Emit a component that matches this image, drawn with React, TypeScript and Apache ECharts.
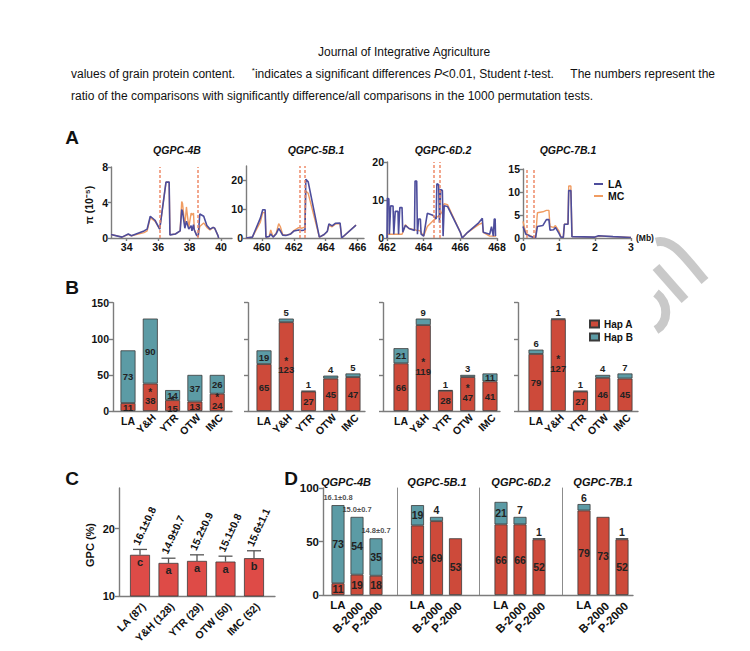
import React, { useEffect, useRef } from 'react';
import * as echarts from 'echarts';

const FONT = '"Liberation Sans", Arial, Helvetica, sans-serif';
const AXIS_C = '#7c7c7c';
const RED = '#cd4a3a';
const TEAL = '#5c9ba5';
const C_RED = '#de4b47';
const LA_C = '#4d4d9c';
const MC_C = '#f09c62';
const DASH_C = '#ee8a68';
const EDGE = '#3a3a3a';

// ---------------- Panel A : nucleotide diversity ----------------
const a4bX = [33.0, 33.7, 34.1, 34.3, 35.1, 35.3, 35.5, 35.8, 36.1, 36.5, 36.7, 36.75, 37.1, 37.4, 37.5, 37.55, 37.7, 37.8, 37.95, 38.1, 38.15, 38.25, 38.3, 38.45, 38.55, 38.65, 38.9, 39.1, 39.3, 39.5, 39.6, 39.8, 39.85];
const a4bLA = [0.4, 0.1, 0.45, 0.25, 0.8, 1.0, 2.45, 2.0, 1.0, 6.3, 6.3, 0.35, 0.45, 0.8, 3.2, 3.0, 1.1, 1.9, 1.0, 1.4, 0.8, 1.5, 0.9, 0.3, 0.2, 2.7, 2.45, 1.4, 1.0, 1.2, 1.1, 0.3, 0.0];
const a4bMC = [0.4, 0.1, 0.4, 0.25, 0.6, 0.8, 2.3, 1.9, 1.0, 6.3, 6.3, 0.35, 0.45, 0.8, 4.1, 3.9, 1.4, 3.5, 1.2, 2.8, 2.6, 2.8, 1.0, 0.3, 0.2, 1.3, 1.7, 1.2, 0.9, 1.2, 1.1, 0.3, 0.0];
const a4bDash = [36.1, 38.55];

const a5bX = [459.0, 459.4, 459.9, 460.05, 460.2, 460.25, 460.45, 460.55, 460.7, 460.9, 461.05, 461.15, 461.3, 461.5, 461.8, 462.0, 462.3, 462.5, 462.7, 462.75, 462.9, 463.6, 463.9, 464.1, 464.2, 464.4, 464.6, 464.9, 465.0, 465.9];
const a5bLA = [0, 0.3, 6.9, 9.8, 9.8, 0.3, 0.5, 1.4, 0.3, 1.5, 3.3, 2.5, 1.0, 0.9, 1.4, 2.4, 2.8, 2.6, 2.8, 20.4, 19.5, 0.3, 1.2, 2.3, 4.9, 4.2, 5.1, 5.2, 0, 4.5];
const a5bMC = [0, 0.3, 5.5, 8.8, 8.8, 0.3, 0.5, 2.8, 0.3, 1.8, 5.0, 4.0, 1.2, 0.9, 1.4, 2.6, 3.6, 3.4, 3.8, 16.3, 15.5, 0.3, 1.2, 2.3, 4.5, 3.9, 4.8, 5.0, 0, 4.5];
const a5bDash = [462.35, 462.7];

const a6dX = [462.0, 462.02, 462.1, 462.13, 462.2, 462.33, 462.37, 462.45, 462.6, 462.63, 462.7, 462.82, 462.86, 463.0, 463.2, 463.5, 463.53, 463.62, 463.66, 463.72, 463.82, 463.86, 464.0, 464.2, 464.5, 464.68, 464.72, 464.82, 464.86, 464.92, 465.02, 465.06, 465.12, 465.3, 466.0, 466.1, 466.4, 467.0, 467.2, 467.25, 467.6, 467.7, 467.8, 467.85, 467.9, 467.92];
const a6dLA = [0, 10.5, 10.3, 1, 8.5, 8.4, 1, 7, 7, 1, 8, 8, 1.5, 3.3, 2.5, 2, 15, 15, 1, 5, 5, 1, 0.5, 6.5, 6, 5, 14.3, 14, 4, 12.8, 12.5, 0.5, 8.5, 8.3, 1.5, 0, 1.5, 4, 5.2, 1.5, 1.0, 3, 0.5, 5, 5, 0.5];
const a6dMC = [1, 1, 1, 1, 1, 1, 1, 1, 1, 1, 1, 1, 1.5, 3.5, 2.5, 2.2, 2.2, 2, 2, 2, 1.8, 1.5, 0.5, 3, 4.5, 5.2, 5.5, 5.8, 6, 6.3, 7, 8.5, 9, 8.8, 1.5, 0, 1.5, 3.5, 4, 1.5, 0.5, 0.5, 0.5, 0.5, 0.5, 0.3];
const a6dDash = [464.57, 464.9];

const a7bX = [0, 0.08, 0.2, 0.3, 0.35, 0.4, 0.55, 0.65, 0.72, 0.75, 0.85, 0.9, 1.0, 1.05, 1.12, 1.15, 1.25, 1.27, 1.33, 1.36, 2.0, 2.1, 2.5, 3.0];
const a7bLA = [2.5, 0.8, 0.4, 0.1, 0.1, 2.5, 2.7, 4.0, 4.0, 1.7, 1.8, 2.3, 1.0, 0.2, 0.1, 3.0, 3.0, 10.3, 10.3, 0.3, 0.2, 0.5, 0.3, 0.1];
const a7bMC = [3.6, 1.0, 0.5, 0.1, 0.1, 5.5, 5.7, 6.0, 6.0, 2.5, 2.3, 2.7, 1.5, 0.3, 0.1, 3.0, 3.0, 11.3, 11.3, 0.3, 0.2, 0.4, 0.3, 0.1];
const a7bDash = [0.1, 0.3];

const aTitles = ['QGPC-4B', 'QGPC-5B.1', 'QGPC-6D.2', 'QGPC-7B.1'];
const a4bTicksX = [34, 36, 38, 40];
const a5bTicksX = [460, 462, 464, 466];
const a6dTicksX = [462, 464, 466, 468];
const a7bTicksX = [0, 1, 2, 3];
const a4bTicksY = [0, 4, 8];
const a5bTicksY = [0, 10, 20];
const a6dTicksY = [0, 10, 20];
const a7bTicksY = [0, 5, 10, 15];

// ---------------- Panel B : haplotype counts ----------------
const bCats = ['LA', 'Y&H', 'YTR', 'OTW', 'IMC'];
const b4bA = [11, 38, 15, 13, 24];
const b4bB = [73, 90, 14, 37, 26];
const b4bStar = [0, 1, 1, 0, 1];
const b5bA = [65, 123, 27, 45, 47];
const b5bB = [19, 5, 1, 4, 5];
const b5bStar = [0, 1, 0, 0, 0];
const b6dA = [66, 119, 28, 47, 41];
const b6dB = [21, 9, 1, 3, 11];
const b6dStar = [0, 1, 0, 1, 0];
const b7bA = [79, 127, 27, 46, 45];
const b7bB = [6, 1, 1, 4, 7];
const b7bStar = [0, 1, 0, 0, 0];
const bTicksY = [0, 50, 100, 150];

// ---------------- Panel C : GPC ----------------
const cCats = ['LA (87)', 'Y&H (128)', 'YTR (29)', 'OTW (50)', 'IMC (52)'];
const cMean = [16.1, 14.9, 15.2, 15.1, 15.6];
const cSd = [0.8, 0.7, 0.9, 0.8, 1.1];
const cLetter = ['c', 'a', 'a', 'a', 'b'];
const cTicksY = [10, 20];

// ---------------- Panel D : permutation ----------------
const dCats = ['LA', 'B-2000', 'P-2000'];
const d4bA = [11, 19, 18];
const d4bB = [73, 54, 35];
const d4bGpc = ['16.1±0.8', '15.0±0.7', '14.8±0.7'];
const d5bA = [65, 69, 53];
const d5bB = [19, 4, 0];
const d6dA = [66, 66, 52];
const d6dB = [21, 7, 1];
const d7bA = [79, 73, 52];
const d7bB = [6, 0, 1];
const dTicksY = [0, 50, 100];

function buildOption() {
  const grids: any[] = [];
  const xAxes: any[] = [];
  const yAxes: any[] = [];
  const series: any[] = [];
  const tick = (size: number) => ({ fontFamily: FONT, fontWeight: 'bold', fontSize: size, color: '#111' });
  const lineSt = { color: AXIS_C, width: 1.4 };
  const axLine = { show: true, onZero: false, lineStyle: lineSt };

  const addLine = (c: any) => {
    const gi = grids.push({ left: c.left, top: c.top, width: c.width, height: c.height }) - 1;
    const xi = xAxes.push({
      type: 'value', gridIndex: gi, min: c.xmin, max: c.xmax,
      axisLine: axLine,
      axisTick: { show: true, customValues: c.xticks, length: 3, lineStyle: lineSt },
      axisLabel: { show: true, customValues: c.xticks, margin: 3, ...tick(10.5) },
      splitLine: { show: false },
    }) - 1;
    const yi = yAxes.push({
      type: 'value', gridIndex: gi, min: 0, max: c.ymax,
      axisLine: axLine,
      axisTick: { show: true, customValues: c.yticks, length: 3, lineStyle: lineSt },
      axisLabel: { show: true, customValues: c.yticks, margin: 3, ...tick(10.5) },
      splitLine: { show: false },
    }) - 1;
    series.push({
      type: 'line', name: 'MC', xAxisIndex: xi, yAxisIndex: yi, symbol: 'none', showSymbol: false,
      lineStyle: { color: MC_C, width: 1.4 }, itemStyle: { color: MC_C },
      data: c.xs.map((x: number, i: number) => [x, c.mc[i]]),
    });
    series.push({
      type: 'line', name: 'LA', xAxisIndex: xi, yAxisIndex: yi, symbol: 'none', showSymbol: false,
      lineStyle: { color: LA_C, width: 1.6 }, itemStyle: { color: LA_C },
      data: c.xs.map((x: number, i: number) => [x, c.la[i]]),
      markLine: {
        silent: true, symbol: 'none', label: { show: false },
        lineStyle: { color: DASH_C, type: [3, 2], width: 1.5 },
        data: c.dash.map((d: number) => ({ xAxis: d })),
      },
    });
  };

  addLine({ left: 111, top: 167, width: 121, height: 71, xmin: 33, xmax: 40.7, xticks: a4bTicksX, ymax: 8, yticks: a4bTicksY, xs: a4bX, la: a4bLA, mc: a4bMC, dash: a4bDash });
  addLine({ left: 246, top: 166, width: 118, height: 72, xmin: 459, xmax: 466.4, xticks: a5bTicksX, ymax: 25, yticks: a5bTicksY, xs: a5bX, la: a5bLA, mc: a5bMC, dash: a5bDash });
  addLine({ left: 387, top: 162, width: 110, height: 76, xmin: 462, xmax: 468, xticks: a6dTicksX, ymax: 20, yticks: a6dTicksY, xs: a6dX, la: a6dLA, mc: a6dMC, dash: a6dDash });
  addLine({ left: 523, top: 169, width: 108, height: 69, xmin: 0, xmax: 3, xticks: a7bTicksX, ymax: 15, yticks: a7bTicksY, xs: a7bX, la: a7bLA, mc: a7bMC, dash: a7bDash });

  // frame grid: draws axis lines / y ticks
  const addFrame = (c: any) => {
    const fg = grids.push({ left: c.left, top: c.top, width: c.width, height: c.height }) - 1;
    xAxes.push({ type: 'value', gridIndex: fg, min: 0, max: 1, axisLine: axLine, axisTick: { show: false }, axisLabel: { show: false }, splitLine: { show: false } });
    yAxes.push({
      type: 'value', gridIndex: fg, min: c.ymin || 0, max: c.ymax, axisLine: axLine,
      axisTick: { show: true, customValues: c.yticks, length: 4, lineStyle: lineSt },
      axisLabel: { show: c.labels, customValues: c.yticks, margin: 4, ...tick(c.tickSize) },
      splitLine: { show: false },
    });
  };

  const addStackData = (c: any) => {
    const dg = grids.push({ left: c.left, top: c.top, width: c.width, height: c.height }) - 1;
    const catLabel = { interval: 0, ...tick(c.catSize) };
    const xi = xAxes.push({
      type: 'category', gridIndex: dg, data: c.cats, position: 'bottom',
      axisLine: { show: false }, axisTick: { show: false },
      axisLabel: { ...catLabel, rotate: 45, align: 'right', verticalAlign: 'top', margin: c.rotMargin, formatter: (v: string) => (v === 'LA' ? '' : v) },
    }) - 1;
    xAxes.push({
      type: 'category', gridIndex: dg, data: c.cats, position: 'bottom',
      axisLine: { show: false }, axisTick: { show: false },
      axisLabel: { ...catLabel, rotate: 0, margin: c.laMargin, formatter: (v: string) => (v === 'LA' ? v : '') },
    });
    const yi = yAxes.push({
      type: 'value', gridIndex: dg, min: 0, max: c.ymax, show: c.sep != null, offset: c.sep || 0,
      axisLine: { show: true, onZero: false, lineStyle: { color: '#8c8c8c', width: 1 } },
      axisTick: { show: false }, axisLabel: { show: false }, splitLine: { show: false },
    }) - 1;
    const lab = { color: '#222', fontFamily: FONT, fontWeight: 'bold', fontSize: c.labelSize };
    series.push({
      type: 'bar', name: 'Hap A', stack: 's' + dg, xAxisIndex: xi, yAxisIndex: yi, barWidth: c.barWidth,
      itemStyle: { color: RED, borderColor: EDGE, borderWidth: 0.8 },
      label: {
        show: true, position: 'inside', ...lab,
        formatter: (p: any) => (c.star && c.star[p.dataIndex] ? '{s|*}\n' : '') + '{n|' + p.value + '}',
        rich: { s: { ...lab, fontSize: 10, lineHeight: 6 }, n: { ...lab, lineHeight: c.labelSize + 1 } },
      },
      data: c.a,
    });
    series.push({
      type: 'bar', name: 'Hap B', stack: 's' + dg, xAxisIndex: xi, yAxisIndex: yi, barWidth: c.barWidth,
      itemStyle: { color: TEAL, borderColor: EDGE, borderWidth: 0.8 },
      label: { show: true, ...lab },
      data: c.b.map((v: number) => (v === 0
        ? { value: '-', label: { show: false } }
        : { value: v, label: { show: true, position: v < 10 ? 'top' : 'inside', distance: 1 } })),
    });
    if (c.gpc) {
      series.push({
        type: 'scatter', xAxisIndex: xi, yAxisIndex: yi, symbolSize: 1, silent: true,
        itemStyle: { color: 'rgba(0,0,0,0)' },
        label: { show: true, position: 'top', distance: 3, color: '#222', fontFamily: FONT, fontWeight: 'bold', fontSize: 7.5, formatter: (p: any) => c.gpc[p.dataIndex] },
        data: c.a.map((v: number, i: number) => [i, v + c.b[i]]),
      });
    }
  };

  // Panel B
  const bTop = 302.7, bH = 108.3;
  const bCfg = [
    { fl: 113, fw: 119, dl: 116.85, dw: 111.5, a: b4bA, b: b4bB, star: b4bStar, labels: true },
    { fl: 248, fw: 117, dl: 252.9, dw: 111.2, a: b5bA, b: b5bB, star: b5bStar, labels: false },
    { fl: 383, fw: 117, dl: 389.9, dw: 111.2, a: b6dA, b: b6dB, star: b6dStar, labels: false },
    { fl: 518, fw: 120, dl: 524.9, dw: 111.2, a: b7bA, b: b7bB, star: b7bStar, labels: false },
  ];
  bCfg.forEach((g) => {
    addFrame({ left: g.fl, top: bTop, width: g.fw, height: bH, ymax: 150, yticks: bTicksY, labels: g.labels, tickSize: 10.5 });
    addStackData({ left: g.dl, top: bTop, width: g.dw, height: bH, ymax: 150, cats: bCats, a: g.a, b: g.b, star: g.star, barWidth: 15, labelSize: 9.5, catSize: 10.5, rotMargin: 1, laMargin: 4 });
  });

  // Panel C
  addFrame({ left: 119, top: 488, width: 156, height: 108, ymin: 10, ymax: 26, yticks: cTicksY, labels: true, tickSize: 11 });
  {
    const dg = grids.push({ left: 125.75, top: 488, width: 142.5, height: 108 }) - 1;
    const xi = xAxes.push({
      type: 'category', gridIndex: dg, data: cCats, axisLine: { show: false }, axisTick: { show: false },
      axisLabel: { interval: 0, rotate: 45, align: 'right', verticalAlign: 'top', margin: 5, ...tick(10.5) },
    }) - 1;
    const yi = yAxes.push({ type: 'value', gridIndex: dg, min: 10, max: 26, show: false }) - 1;
    series.push({
      type: 'bar', xAxisIndex: xi, yAxisIndex: yi, barWidth: 20, clip: true,
      itemStyle: { color: C_RED, borderColor: EDGE, borderWidth: 0.8 },
      label: { show: true, position: 'insideTop', distance: 2, color: '#222', fontFamily: FONT, fontWeight: 'bold', fontSize: 11, formatter: (p: any) => cLetter[p.dataIndex] },
      data: cMean,
    });
    series.push({
      type: 'custom', xAxisIndex: xi, yAxisIndex: yi, silent: true,
      renderItem: (params: any, api: any) => {
        const i = api.value(0);
        const m = api.value(1);
        const s = api.value(2);
        const p0 = api.coord([i, m]);
        const p1 = api.coord([i, m + s]);
        const st = { stroke: '#555', lineWidth: 1.3 };
        return {
          type: 'group',
          children: [
            { type: 'line', shape: { x1: p0[0], y1: p0[1], x2: p1[0], y2: p1[1] }, style: st },
            { type: 'line', shape: { x1: p1[0] - 7, y1: p1[1], x2: p1[0] + 7, y2: p1[1] }, style: st },
            {
              type: 'text', x: p1[0] - 4, y: p1[1] - 5, rotation: (65 * Math.PI) / 180,
              style: {
                text: cMean[i].toFixed(1) + '±' + cSd[i].toFixed(1), fill: '#111',
                fontFamily: FONT, fontWeight: 'bold', fontSize: 10.5,
                textAlign: 'left', align: 'left', textVerticalAlign: 'middle', verticalAlign: 'middle',
              },
            },
          ],
        };
      },
      data: cMean.map((m, i) => [i, m, cSd[i]]),
    });
  }

  // Panel D
  addFrame({ left: 323, top: 488, width: 310, height: 107, ymax: 100, yticks: dTicksY, labels: true, tickSize: 11.5 });
  const dCfg = [
    { dl: 328.5, a: d4bA, b: d4bB, sep: null, gpc: d4bGpc },
    { dl: 408, a: d5bA, b: d5bB, sep: 11, gpc: null },
    { dl: 491.5, a: d6dA, b: d6dB, sep: 12.5, gpc: null },
    { dl: 574.5, a: d7bA, b: d7bB, sep: 12.5, gpc: null },
  ];
  dCfg.forEach((g) => {
    addStackData({ left: g.dl, top: 488, width: 57, height: 107, ymax: 100, cats: dCats, a: g.a, b: g.b, star: null, sep: g.sep, gpc: g.gpc, barWidth: 13, labelSize: 10.5, catSize: 11.5, rotMargin: 5, laMargin: 4 });
  });

  const txt = (x: number, y: number, text: string, o: any = {}) => ({
    type: 'text', x, y, rotation: o.rotation || 0, z: 50,
    style: {
      text, fill: o.fill || '#111', fontFamily: FONT, fontSize: o.size || 12,
      fontWeight: o.weight || 'normal', fontStyle: o.style || 'normal',
      textAlign: o.align || 'center', align: o.align || 'center',
      textVerticalAlign: 'middle', verticalAlign: 'middle', rich: o.rich,
    },
  });
  const rich = {
    n: { fontFamily: FONT, fontSize: 12, fill: '#111' },
    i: { fontFamily: FONT, fontSize: 12, fontStyle: 'italic', fill: '#111' },
    s: { fontFamily: FONT, fontSize: 8, fill: '#111', padding: [0, 0, 7, 0] },
  };
  const wm = { stroke: '#c9c9c9', lineWidth: 9, fill: null };

  const graphic = [
    txt(404, 52, 'Journal of Integrative Agriculture'),
    txt(71, 74, '{n|values of grain protein content.     }{s|*}{n|indicates a significant differences }{i|P}{n|<0.01, Student }{i|t}{n|-test.     The numbers represent the}', { align: 'left', rich }),
    txt(71, 96, 'ratio of the comparisons with significantly difference/all comparisons in the 1000 permutation tests.', { align: 'left' }),
    txt(72, 137, 'A', { size: 19, weight: 'bold' }),
    txt(72, 287, 'B', { size: 19, weight: 'bold' }),
    txt(72, 478, 'C', { size: 19, weight: 'bold' }),
    txt(291, 478, 'D', { size: 19, weight: 'bold' }),
    txt(177, 150, aTitles[0], { size: 10.5, weight: 'bold', style: 'italic' }),
    txt(316, 150, aTitles[1], { size: 10.5, weight: 'bold', style: 'italic' }),
    txt(443, 150, aTitles[2], { size: 10.5, weight: 'bold', style: 'italic' }),
    txt(568, 150, aTitles[3], { size: 10.5, weight: 'bold', style: 'italic' }),
    txt(346, 482, aTitles[0], { size: 11, weight: 'bold', style: 'italic' }),
    txt(437, 482, aTitles[1], { size: 11, weight: 'bold', style: 'italic' }),
    txt(521, 482, aTitles[2], { size: 11, weight: 'bold', style: 'italic' }),
    txt(603, 482, aTitles[3], { size: 11, weight: 'bold', style: 'italic' }),
    txt(89, 205, 'π (10⁻⁵)', { size: 10.5, weight: 'bold', rotation: Math.PI / 2 }),
    txt(90, 545, 'GPC (%)', { size: 11, weight: 'bold', rotation: Math.PI / 2 }),
    txt(636, 238, '(Mb)', { size: 8.5, weight: 'bold', align: 'left' }),
    { type: 'bezierCurve', z: 60, shape: { x1: 656, y1: 242, cpx1: 672, cpy1: 238, cpx2: 684, cpy2: 256, x2: 705, y2: 281 }, style: wm },
    { type: 'line', z: 60, shape: { x1: 656, y1: 267, x2: 685, y2: 300 }, style: wm },
    { type: 'bezierCurve', z: 60, shape: { x1: 656, y1: 293, cpx1: 669, cpy1: 303, cpx2: 669, cpy2: 322, x2: 656, y2: 330 }, style: wm },
  ];

  return {
    animation: false,
    backgroundColor: '#ffffff',
    textStyle: { fontFamily: FONT },
    grid: grids,
    xAxis: xAxes,
    yAxis: yAxes,
    series,
    legend: [
      {
        data: ['LA', 'MC'], orient: 'vertical', left: 589, top: 173, itemWidth: 9, itemHeight: 2, itemGap: 0,
        icon: 'rect', selectedMode: false,
        textStyle: { fontFamily: FONT, fontWeight: 'bold', fontSize: 10.5, color: '#111', lineHeight: 12 },
      },
      {
        data: ['Hap A', 'Hap B'], orient: 'vertical', left: 584, top: 313, itemWidth: 9, itemHeight: 7, itemGap: 1,
        icon: 'rect', selectedMode: false,
        textStyle: { fontFamily: FONT, fontWeight: 'bold', fontSize: 10, color: '#111', lineHeight: 12 },
      },
    ],
    graphic,
  };
}

export default function App() {
  const ref = useRef<HTMLDivElement>(null);
  useEffect(() => {
    if (!ref.current) return;
    const chart = echarts.init(ref.current, null, { renderer: 'svg' });
    chart.setOption(buildOption() as any);
    return () => chart.dispose();
  }, []);
  return <div ref={ref} style={{ position: 'absolute', left: 0, top: 0, width: 750, height: 651, background: '#fff' }} />;
}
